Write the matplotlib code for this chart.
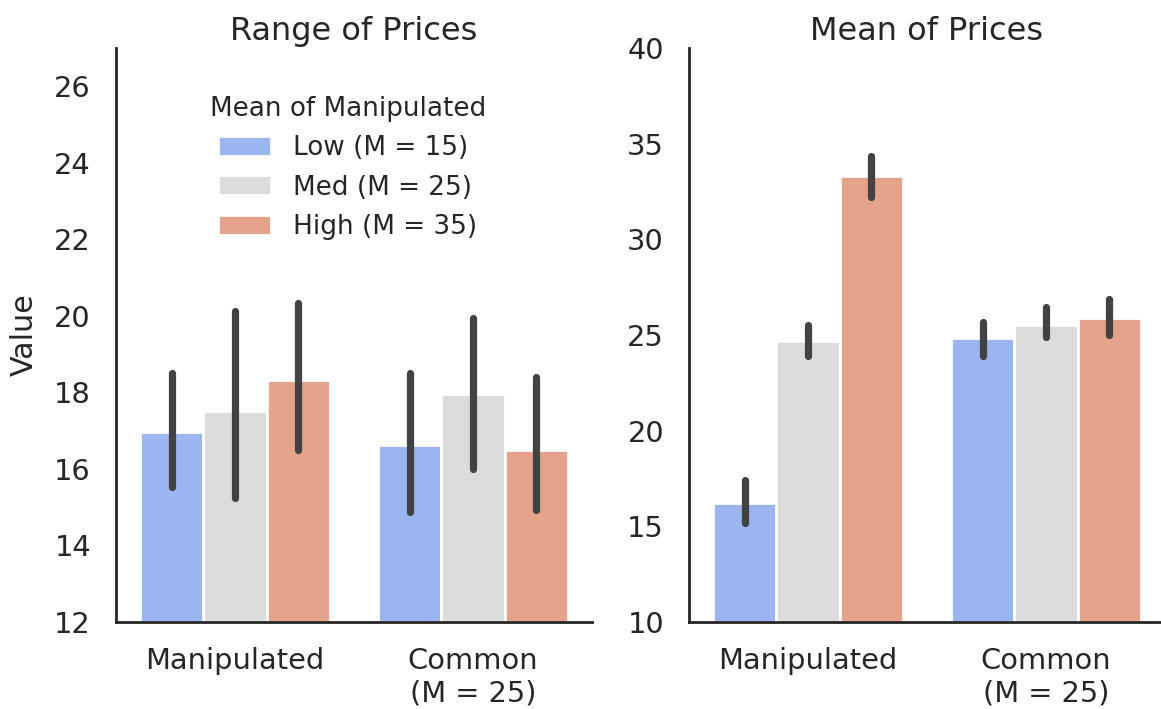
import matplotlib
matplotlib.use("Agg")
import matplotlib.pyplot as plt
import numpy as np

# conditions on the x axis and the three manipulation levels
categories = ["Manipulated", "Common\n(M = 25)"]
levels = ["Low (M = 15)", "Med (M = 25)", "High (M = 35)"]
colors = ["#9bb5f0", "#dcdcdc", "#e5a38b"]

# range of prices: bar heights and CI bounds, rows = levels, cols = categories
range_mean = [[16.96, 16.63], [17.52, 17.95], [18.33, 16.49]]
range_lo = [[15.54, 14.88], [15.25, 16.00], [16.50, 14.93]]
range_hi = [[18.50, 18.50], [20.12, 19.94], [20.33, 18.40]]

# mean of prices
mean_mean = [[16.22, 24.82], [24.67, 25.51], [33.32, 25.89]]
mean_lo = [[15.18, 23.92], [23.92, 24.88], [32.22, 25.00]]
mean_hi = [[17.41, 25.69], [25.51, 26.44], [34.36, 26.88]]

dark = "#262626"
plt.rcParams["font.family"] = "DejaVu Sans"
plt.rcParams["text.color"] = dark

fig = plt.figure(figsize=(11.61, 7.09), dpi=100)
ax1 = fig.add_axes([116 / 1161, 87 / 709, 476 / 1161, 574 / 709])
ax2 = fig.add_axes([689 / 1161, 87 / 709, 476 / 1161, 574 / 709])

width = 0.8 / 3
x = np.arange(len(categories))


def draw(ax, means, lo, hi, title, ylim, yticks):
    for i, lev in enumerate(levels):
        pos = x + (i - 1) * width
        ax.bar(pos, np.array(means[i]) - ylim[0], width, bottom=ylim[0],
               color=colors[i], edgecolor="white", linewidth=2, label=lev, zorder=2)
        for p, a, b in zip(pos, lo[i], hi[i]):
            ax.plot([p, p], [a, b], color="#424242", lw=5.2,
                    solid_capstyle="round", zorder=3)
    ax.set_xlim(-0.5, 1.5)
    ax.set_ylim(*ylim)
    ax.set_yticks(yticks)
    ax.set_xticks(x)
    ax.set_xticklabels(categories)
    ax.set_title(title, fontsize=23, color=dark)
    for s in ["top", "right"]:
        ax.spines[s].set_visible(False)
    for s in ["left", "bottom"]:
        ax.spines[s].set_linewidth(2)
        ax.spines[s].set_color(dark)
    ax.tick_params(axis="y", length=0, pad=18, labelsize=20.8, labelcolor=dark)
    ax.tick_params(axis="x", length=0, pad=18, labelsize=20.8, labelcolor=dark)


draw(ax1, range_mean, range_lo, range_hi, "Range of Prices", (12, 27), range(12, 27, 2))
draw(ax2, mean_mean, mean_lo, mean_hi, "Mean of Prices", (10, 40), range(10, 41, 5))

ax1.set_ylabel("Value", fontsize=21.7, color=dark)
ax1.yaxis.set_label_coords(-0.162, 0.5)

leg = ax1.legend(title="Mean of Manipulated", loc="upper center",
                 bbox_to_anchor=(0.487, 0.957), frameon=False, fontsize=18.9,
                 title_fontsize=18.9, handlelength=2.0, handleheight=0.8,
                 handletextpad=0.87, labelspacing=0.5)

fig.savefig("out.png", dpi=100)
